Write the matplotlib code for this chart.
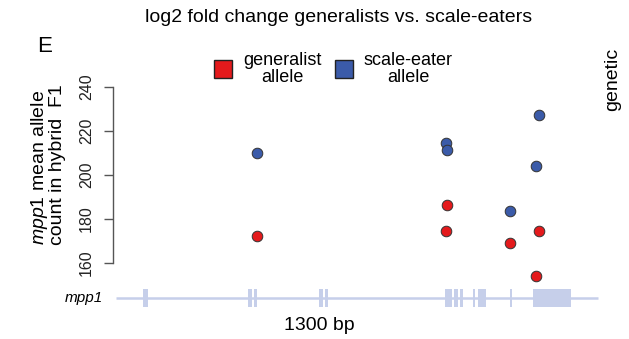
import matplotlib
matplotlib.use("Agg")
import matplotlib.pyplot as plt
from matplotlib.lines import Line2D
from matplotlib.transforms import Bbox, TransformedBbox

plt.rcParams['font.family'] = ['Liberation Sans', 'DejaVu Sans']
plt.rcParams['mathtext.fontset'] = 'custom'
plt.rcParams['mathtext.rm'] = 'Liberation Sans'
plt.rcParams['mathtext.it'] = 'Liberation Sans:italic'

# positions along the gene (bp) and mean allele counts
gen_pos = [1407, 3307, 3300, 3940, 4233, 4200]
gen_count = [172.3, 186.2, 174.5, 169.2, 174.7, 154.2]
se_pos = [1407, 3300, 3307, 3940, 4233, 4200]
se_count = [210.2, 214.4, 211.4, 183.8, 227.3, 204.2]

# gene model of mpp1
gene_start, gene_end = 0, 4820
exons = [(270, 320), (1320, 1360), (1380, 1410), (2030, 2070), (2090, 2120),
         (3290, 3360), (3380, 3420), (3440, 3470), (3570, 3590), (3620, 3700),
         (3940, 3960), (4170, 4550)]
yticks = [160, 180, 200, 220, 240]

W, H = 629, 339
fig = plt.figure(figsize=(W / 100, H / 100), dpi=100)
ax = fig.add_axes([113 / W, 1 - 320 / H, (600 - 113) / W, 260 / H])

red = '#e41a1c'
blue = '#3b5ba9'
track = '#c6cfea'

# gene track
track_y = 144.1
ax.plot([gene_start, gene_end], [track_y, track_y], color=track, lw=1.8,
        solid_capstyle='butt', zorder=1)
for s, e in exons:
    ax.bar(s, 8.2, width=e - s, bottom=140.0, align='edge', color=track,
           edgecolor='none', zorder=1)

ax.scatter(gen_pos, gen_count, s=58, color=red, edgecolor='#333333',
           linewidth=0.7, zorder=3)
ax.scatter(se_pos, se_count, s=58, color=blue, edgecolor='#333333',
           linewidth=0.7, zorder=3)

ax.set_xlim(-30, 4840)
ax.set_ylim(134.09, 252.27)
for sp in ['top', 'right', 'bottom']:
    ax.spines[sp].set_visible(False)
ax.spines['left'].set_bounds(160, 240)
ax.spines['left'].set_color('#555555')
ax.spines['left'].set_linewidth(1.0)
ax.set_xticks([])
ax.set_yticks(yticks)
ax.tick_params(axis='y', length=6.5, width=1.0, color='#555555', pad=7,
               labelsize=11.5, labelcolor='#222222')
for lab in ax.get_yticklabels():
    lab.set_rotation(90)
    lab.set_va('center')

# axis label (two lines, first word italic)
fig.text(40 / W, 1 - 167 / H, r'$\it{mpp1}$ mean allele', rotation=90,
         ha='center', va='center', fontsize=14)
fig.text(58 / W, 1 - 165 / H, 'count in hybrid  F1', rotation=90,
         ha='center', va='center', fontsize=14)

fig.text(339 / W, 1 - 17 / H, 'log2 fold change generalists vs. scale-eaters',
         ha='center', va='center', fontsize=14)
fig.text(45 / W, 1 - 47 / H, 'E', ha='center', va='center', fontsize=16)
fig.text(103 / W, 1 - 298 / H, 'mpp1', style='italic', ha='right',
         va='center', fontsize=11)
fig.text(319 / W, 1 - 326 / H, '1300 bp', ha='center', va='center',
         fontsize=14)

# partial label from the neighbouring panel, clipped at the edge
t = fig.text(613 / W, 1 - 79 / H, 'genetic', rotation=90, ha='center',
             va='center', fontsize=14)
t.set_clip_box(TransformedBbox(Bbox([[0, 0], [623 / W, 1]]), fig.transFigure))
t.set_clip_on(True)

handles = [Line2D([], [], marker='s', ls='', markersize=13.5, markerfacecolor=red,
                  markeredgecolor='#222222', markeredgewidth=1.0),
           Line2D([], [], marker='s', ls='', markersize=13.5, markerfacecolor=blue,
                  markeredgecolor='#222222', markeredgewidth=1.0)]
leg = fig.legend(handles, ['generalist\nallele', 'scale-eater\nallele'], ncol=2,
                 loc='center', bbox_to_anchor=(333 / W, 1 - 69 / H),
                 frameon=False, fontsize=13, handlelength=1.1,
                 handletextpad=0.55, columnspacing=0.7, labelspacing=0.2)
for txt in leg.get_texts():
    txt.set_multialignment('center')
    txt.set_linespacing(1.0)

fig.savefig('out.png', dpi=100)
